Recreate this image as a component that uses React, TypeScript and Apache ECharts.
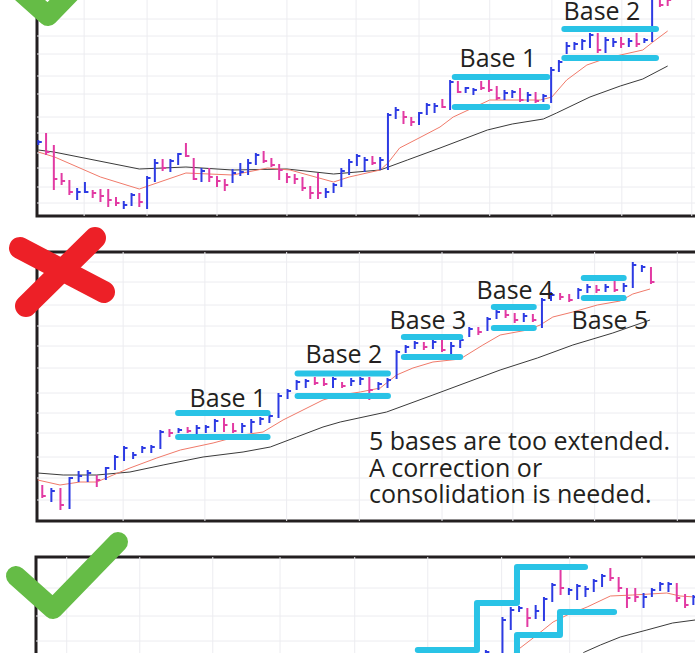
import React, { useEffect, useRef } from 'react';
import * as echarts from 'echarts';

// ---------- DATA (price units; bars = [high, low, close, up(1)/down(0)]) ----------
const bars1: number[][] = [
  [76,71,74,1],[83,61,64,0],[71,26,37,0],[43,31,35,0],[36,21,24,0],[28,16,24,1],[34,23,24,1],[26,18,23,0],[27,14,20,0],[27,9,16,0],
  [19,10,13,0],[15,7,11,1],[23,10,21,1],[23,9,14,0],[40,7,38,1],[57,34,53,1],[57,45,48,0],[57,44,55,1],[63,51,62,1],[73,59,60,0],
  [58,36,37,0],[48,34,45,1],[48,34,39,0],[40,29,35,0],[37,25,31,0],[47,33,43,1],[53,40,44,1],[57,41,53,1],[63,51,61,1],[65,53,55,0],
  [58,49,51,0],[52,36,46,0],[43,33,39,0],[42,32,37,0],[39,25,28,0],[30,17,23,0],[43,17,23,0],[28,18,24,1],[33,23,31,1],[48,29,45,1],
  [57,41,54,1],[62,50,60,1],[59,44,56,1],[60,51,53,0],[59,46,56,1],[103,46,101,1],[109,97,106,1],[105,92,99,0],[99,90,94,0],[104,91,103,1],
  [113,101,111,1],[113,103,110,1],[117,108,109,0],[136,106,134,1],[135,123,124,0],[129,123,128,1],[128,121,126,1],[135,126,128,0],[136,124,126,0],[130,116,118,0],
  [126,116,123,1],[126,118,124,1],[128,114,116,0],[124,114,121,1],[124,113,115,0],[122,114,120,1],[149,113,146,1],[156,144,154,1],[174,162,170,1],[174,166,172,1],
  [177,166,175,1],[183,168,181,1],[183,163,166,0],[179,163,176,1],[178,169,174,1],[179,168,172,0],[178,169,175,1],[183,169,172,0],[178,173,176,1],[224,174,221,1],
  [224,209,211,0],[223,210,216,0],
];
const bars2: number[][] = [
  [36,23,25,0],[33,19,30,1],[33,11,16,0],[44,12,43,1],[50,39,45,1],[51,39,48,1],[46,34,41,0],[54,41,53,1],[66,51,64,1],[75,60,73,1],
  [69,62,66,1],[75,68,73,1],[76,68,74,1],[91,72,89,1],[92,84,88,0],[93,88,91,1],[94,88,90,0],[96,87,93,1],[96,88,94,1],[102,89,100,1],
  [103,89,96,0],[98,88,90,0],[98,88,95,1],[102,88,99,1],[104,96,102,1],[107,98,105,1],[128,103,125,1],[132,122,130,1],[141,131,139,1],[142,133,140,1],
  [144,136,138,0],[143,135,137,0],[144,133,142,1],[139,133,135,0],[143,135,140,1],[144,136,142,1],[144,121,131,0],[139,131,137,1],[143,133,141,1],[171,142,169,1],
  [176,168,174,1],[180,172,178,1],[179,171,174,0],[181,172,179,1],[181,169,171,0],[179,167,175,1],[183,173,181,1],[194,184,192,1],[194,186,189,0],[204,190,202,1],
  [211,202,209,1],[211,203,206,0],[208,198,201,0],[208,199,205,1],[207,199,201,0],[223,193,221,1],[229,220,226,1],[228,221,224,0],[227,219,221,0],[233,222,231,1],
  [237,228,234,1],[236,228,231,0],[237,229,234,1],[240,229,231,0],[238,229,235,1],[259,233,256,1],[256,249,254,1],[254,237,239,0],
];
const bars3Start = 54;
const bars3: number[][] = [
  [107,85,105,1],[101,82,85,0],[140,89,137,1],[150,127,147,1],[151,145,149,1],[149,130,139,0],[152,138,146,1],[160,136,158,1],[174,155,172,1],[187,162,169,0],
  [169,162,167,1],[173,157,171,1],[171,160,168,1],[178,165,176,1],[183,170,181,1],[189,176,179,0],[180,165,169,0],[169,149,159,0],[169,155,160,0],[164,149,160,1],
  [169,160,167,1],[175,166,173,1],[175,165,173,1],[174,155,159,0],[163,149,152,0],[162,152,160,1],
];

// moving averages, read as [bar index, value]
const fastMA1 = [[0,64],[2.1,59],[8,39],[13,27],[19,43],[25,41],[29.5,48],[32.4,46],[38,34],[40,39],[44,46],[45,53],[46.5,68],[49,78],[51.7,89],[53.4,99],[58.1,116],[64.6,116],[66.1,119],[68,136],[70.6,151],[73.2,158],[77.8,166],[79.1,174],[81,185]];
const slowMA1 = [[0,66],[2,64],[13,47],[19,49],[25,46],[32,47],[38,42],[44,46],[47.5,56],[51.7,68],[57.8,86],[61,92],[65,97],[66.7,103],[71,119],[74.9,130],[77.8,137],[81,150]];
const fastMA2 = [[-0.5,41],[1.95,36],[4.15,39],[6,39],[7.8,46],[9.65,53],[12.6,63],[15.2,71],[18.8,78],[22.1,86],[24.3,89],[26.5,101],[28.7,111],[30.9,121],[32.8,126],[35,129],[37.2,133],[39,146],[40.8,153],[43,159],[46,162],[48.5,176],[50.4,186],[53.4,191],[54.8,196],[56.2,204],[58.4,209],[61.1,216],[63.6,220],[65,227],[66.9,232]];
const slowMA2 = [[-0.5,48],[2.3,46],[6,46],[9.65,49],[13.3,56],[17.7,64],[22.1,69],[25.1,74],[28,84],[30.9,94],[32.8,99],[37.9,109],[43,126],[50.4,151],[54.5,163],[58.4,176],[62.8,188],[66.9,201]];
const fastMA3 = [[56.3,95],[57.5,105],[59.7,119],[62.1,135],[63.8,142],[66.2,150],[69,161],[71.7,162],[75.8,164],[77.4,161],[79.2,160]];
const slowMA3 = [[64.5,96],[65.9,105],[67.8,112],[70.2,120],[73.4,127],[76.5,134],[79.2,137]];

// base boundaries: [start bar, end bar, price level]
const bases1 = [[53.6,65.5,139],[53.6,65.5,109],[67.7,79.5,187],[67.7,79.5,158]];
const bases2 = [[14.95,24.8,108],[14.95,24.8,84],[28.1,38.05,147.5],[28.1,38.05,125],[39.8,46,184],[39.8,46,164],[49.7,54.1,214],[49.7,54.1,193],[59.6,64,243],[59.6,64,223]];
const stepUpper3 = [[45.8,107],[52.93,107],[52.93,154],[57.75,154],[57.75,190],[65.95,190]];
const stepLower3 = [[57.75,60],[57.75,122],[62.93,122],[62.93,145],[69.45,145]];

// grid line positions (bar index / price level)
const vGrid1 = [5.9,14,23,32,40.9,49,58.1,66.1,75.1,84.1];
const hGrid1 = [197,180,162,140,122,99,83,63,48,29,13];
const vGrid2 = [8.9,17.9,26.9,34.9,44,51.8,60.8,69.9];
const hGrid2 = [259,239,216,195,175,153,128,108,88,64,43,21];
const vGrid3 = [3.5,12.3,21.1,29.2,38.2,47,55.9,64.1,72.8];
const hGrid3 = [169,141,116,91,66,41,16];

const panel1Labels = ['Base 1', 'Base 2'];
const panel2Labels = ['Base 1', 'Base 2', 'Base 3', 'Base 4', 'Base 5'];
const noteLines = ['5 bases are too extended.', 'A correction or', 'consolidation is needed.'];

// ---------- STYLE / LAYOUT ----------
const BLUE = '#2d3be3';
const PINK = '#e23aa3';
const CYAN = '#29c3e6';
const RED_MA = '#f07a6a';
const BLACK_MA = '#3a3a3a';
const GRIDC = '#ececf0';
const FRAME = '#231f20';
const TEXTC = '#231f20';
const FONT = '"Open Sans", "Noto Sans", sans-serif';
const OFF = 40; // chart canvas starts 40px above the visible page
const CHART_W = 760;
const CHART_H = 820;
const GRID_W = 700;

// tops are in page pixels (chart y = page y + OFF)
const layout = [
  { left: 37, top: -40, height: 256, xMin: -0.167, step: 7.77 },
  { left: 37, top: 252, height: 269, xMin: -0.58, step: 9.085 },
  { left: 36, top: 557, height: 200, xMin: -0.2, step: 8.3 },
];

const labelPos1 = [[498, 57], [602, 10]];
const labelPos2 = [[228, 397], [344, 353], [428, 319], [515, 289], [610, 319]];
const notePos = { x: 369, y: 427, lineGap: 26.5 };

function gridSeries(k: number, vg: number[], hg: number[]) {
  return {
    type: 'custom', xAxisIndex: k, yAxisIndex: k, z: 1, silent: true,
    data: [...vg.map((v) => [0, v]), ...hg.map((h) => [1, h])],
    renderItem: (params: any, api: any) => {
      const cs = params.coordSys;
      const kind = api.value(0);
      const val = api.value(1);
      if (kind === 0) {
        const x = api.coord([val, 0])[0];
        return { type: 'line', shape: { x1: x, y1: cs.y, x2: x, y2: cs.y + cs.height }, style: { stroke: GRIDC, lineWidth: 1 } };
      }
      const y = api.coord([0, val])[1];
      return { type: 'line', shape: { x1: cs.x, y1: y, x2: cs.x + cs.width, y2: y }, style: { stroke: GRIDC, lineWidth: 1 } };
    },
  };
}

function barSeries(k: number, bars: number[][], start: number) {
  return {
    type: 'custom', xAxisIndex: k, yAxisIndex: k, z: 3, silent: true,
    encode: { x: 0, y: [1, 2, 3] },
    data: bars.map((b, i) => [i + start, b[0], b[1], b[2], b[3]]),
    renderItem: (params: any, api: any) => {
      const i = api.value(0);
      const pH = api.coord([i, api.value(1)]);
      const pL = api.coord([i, api.value(2)]);
      const pC = api.coord([i, api.value(3)]);
      const color = api.value(4) ? BLUE : PINK;
      return {
        type: 'group',
        children: [
          { type: 'line', shape: { x1: pH[0], y1: pH[1], x2: pL[0], y2: pL[1] }, style: { stroke: color, lineWidth: 2 } },
          { type: 'line', shape: { x1: pC[0], y1: pC[1], x2: pC[0] + 3.5, y2: pC[1] }, style: { stroke: color, lineWidth: 2 } },
        ],
      };
    },
  };
}

function maSeries(k: number, data: number[][], color: string) {
  return {
    type: 'line', xAxisIndex: k, yAxisIndex: k, z: 2, silent: true,
    data, symbol: 'none', lineStyle: { color, width: 1 },
  };
}

function thickLine(k: number, data: number[][]) {
  return {
    type: 'line', xAxisIndex: k, yAxisIndex: k, z: 4, silent: true,
    data, symbol: 'none',
    lineStyle: { color: CYAN, width: 6, cap: 'round', join: 'round' },
  };
}

function baseSeries(k: number, bases: number[][]) {
  return bases.map((b) => thickLine(k, [[b[0], b[2]], [b[1], b[2]]]));
}

function textEl(text: string, x: number, y: number, align: string, verticalAlign = 'middle', lineHeight = 22) {
  return {
    type: 'text', x, y: y + OFF, z: 100,
    style: { text, fontSize: 25, fontFamily: FONT, fill: TEXTC, align, verticalAlign, lineHeight },
  };
}

function stroke(points: number[][], color: string, width: number) {
  return {
    type: 'polyline', z: 100,
    shape: { points: points.map((p) => [p[0], p[1] + OFF]) },
    style: { stroke: color, lineWidth: width, lineCap: 'round', lineJoin: 'round', fill: null },
  };
}

export default function App() {
  const ref = useRef<HTMLDivElement>(null);
  useEffect(() => {
    const chart = echarts.init(ref.current!, null, { renderer: 'svg' });
    const option: any = {
      animation: false,
      grid: layout.map((p) => ({
        left: p.left, top: p.top + OFF, width: GRID_W, height: p.height,
        show: true, borderColor: FRAME, borderWidth: 3, backgroundColor: 'transparent',
      })),
      xAxis: layout.map((p, k) => ({
        type: 'value', gridIndex: k, min: p.xMin, max: p.xMin + GRID_W / p.step, show: false,
      })),
      yAxis: layout.map((p, k) => ({
        type: 'value', gridIndex: k, min: 0, max: p.height, show: false,
      })),
      series: [
        gridSeries(0, vGrid1, hGrid1),
        gridSeries(1, vGrid2, hGrid2),
        gridSeries(2, vGrid3, hGrid3),
        maSeries(0, slowMA1, BLACK_MA), maSeries(0, fastMA1, RED_MA),
        maSeries(1, slowMA2, BLACK_MA), maSeries(1, fastMA2, RED_MA),
        maSeries(2, slowMA3, BLACK_MA), maSeries(2, fastMA3, RED_MA),
        barSeries(0, bars1, 0),
        barSeries(1, bars2, 0),
        barSeries(2, bars3, bars3Start),
        ...baseSeries(0, bases1),
        ...baseSeries(1, bases2),
        thickLine(2, stepUpper3),
        thickLine(2, stepLower3),
      ],
      graphic: [
        ...panel1Labels.map((t, i) => textEl(t, labelPos1[i][0], labelPos1[i][1], 'center', 'middle', 20)),
        ...panel2Labels.map((t, i) => textEl(t, labelPos2[i][0], labelPos2[i][1], 'center')),
        textEl(noteLines.join('\n'), notePos.x, notePos.y, 'left', 'top', notePos.lineGap),
        stroke([[11, -17], [48, 16], [113, -51]], '#65bc46', 20),
        stroke([[20, 248], [104, 292]], '#ed2027', 22),
        stroke([[95, 238], [26, 306]], '#ed2027', 22),
        stroke([[16, 576], [53, 609], [118, 542]], '#65bc46', 20),
      ],
    };
    chart.setOption(option);
    return () => chart.dispose();
  }, []);
  return (
    <div style={{ position: 'absolute', left: 0, top: 0, width: 695, height: 653, overflow: 'hidden', background: '#fff' }}>
      <div ref={ref} style={{ position: 'absolute', left: 0, top: -OFF, width: CHART_W, height: CHART_H }} />
    </div>
  );
}
